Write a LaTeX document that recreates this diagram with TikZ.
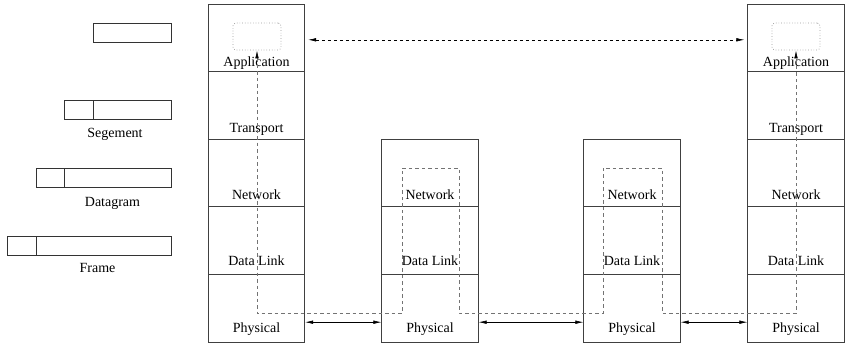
\documentclass[tikz,border=0pt]{standalone}
\usepackage{fontspec}
\setmainfont{Liberation Serif}
\usetikzlibrary{arrows.meta,positioning}

\tikzset{
  layer/.style={draw=black!75, line width=0.8pt, minimum width=96.5pt, minimum height=67.6pt, inner sep=0pt},
  lname/.style={anchor=base, inner sep=0pt, font=\fontsize{14}{17}\selectfont},
  pkt/.style={draw=black!80, line width=0.8pt, minimum height=19pt, inner sep=0pt},
  phys/.style={{Latex[length=8pt,width=3.6pt]}-{Latex[length=8pt,width=3.6pt]}, line width=0.6pt},
  peer/.style={phys, dash pattern=on 3pt off 3pt},
  route/.style={{Latex[black,length=8pt,width=3.6pt]}-{Latex[black,length=8pt,width=3.6pt]}, draw=black!55, line width=0.7pt, dash pattern=on 3.5pt off 3pt},
  appbox/.style={draw=black!40, line width=0.7pt, dotted, rounded corners=3pt, minimum width=48pt, minimum height=27pt, inner sep=0pt}
}

\begin{document}
\begin{tikzpicture}[x=1pt,y=-1pt]
  \useasboundingbox (0,0) rectangle (846,346);

  %%%%% packets %%%%%
  \node[pkt, minimum width=78pt] (appData) at (132,32.5) {};

  \node[pkt, minimum width=29pt] (segHdr) at (78.5,109.5) {};
  \node[pkt, minimum width=78pt] (segBody) at (132,109.5) {};
  \node[lname] (segName) at (115,137) {Segement};

  \node[pkt, minimum width=28pt] (dgHdr) at (50,177.5) {};
  \node[pkt, minimum width=107pt] (dgBody) at (117.5,177.5) {};
  \node[lname] (dgName) at (112.5,206) {Datagram};

  \node[pkt, minimum width=29pt] (frHdr) at (21.5,245.5) {};
  \node[pkt, minimum width=135pt] (frBody) at (103.5,245.5) {};
  \node[lname] (frName) at (97.5,272.5) {Frame};

  %%%%% end hosts %%%%%
  \foreach \h/\x in {hostA/256.5, hostB/796} {
    \foreach \n [count=\i] in {Application,Transport,Network,Data Link,Physical} {
      \node[layer] (\h\i) at (\x, {4+67.6*(\i-0.5)}) {};
      \node[lname] (\h\i t) at ([yshift={(5+\i)*1pt}]\h\i.south) {\n};
    }
  }

  %%%%% routers %%%%%
  \foreach \h/\x in {rtrA/430, rtrB/632} {
    \foreach \n [count=\i from 3] in {Network,Data Link,Physical} {
      \node[layer] (\h\i) at (\x, {4+67.6*(\i-0.5)}) {};
      \node[lname] (\h\i t) at ([yshift={(5+\i)*1pt}]\h\i.south) {\n};
    }
  }

  %%%%% application end points %%%%%
  \node[appbox] (appA) at (257,36.5) {};
  \node[appbox] (appB) at (796,36.5) {};

  %%%%% links %%%%%
  \draw[peer] ([xshift=3pt,yshift=-2pt]hostA1.east) -- ([xshift=-3pt,yshift=-2pt]hostB1.west);

  \draw[phys] ([yshift=-14pt]hostA5.east) -- ([yshift=-14pt]rtrA5.west);
  \draw[phys] ([yshift=-14pt]rtrA5.east) -- ([yshift=-14pt]rtrB5.west);
  \draw[phys] ([yshift=-14pt]rtrB5.east) -- ([yshift=-14pt]hostB5.west);

  %%%%% data path %%%%%
  \draw[route] (appA.south) -- ++(0,263) -| (402,168) -| (459,313)
    -| (603,168) -| (662,313) -| (appB.south);
\end{tikzpicture}
\end{document}
